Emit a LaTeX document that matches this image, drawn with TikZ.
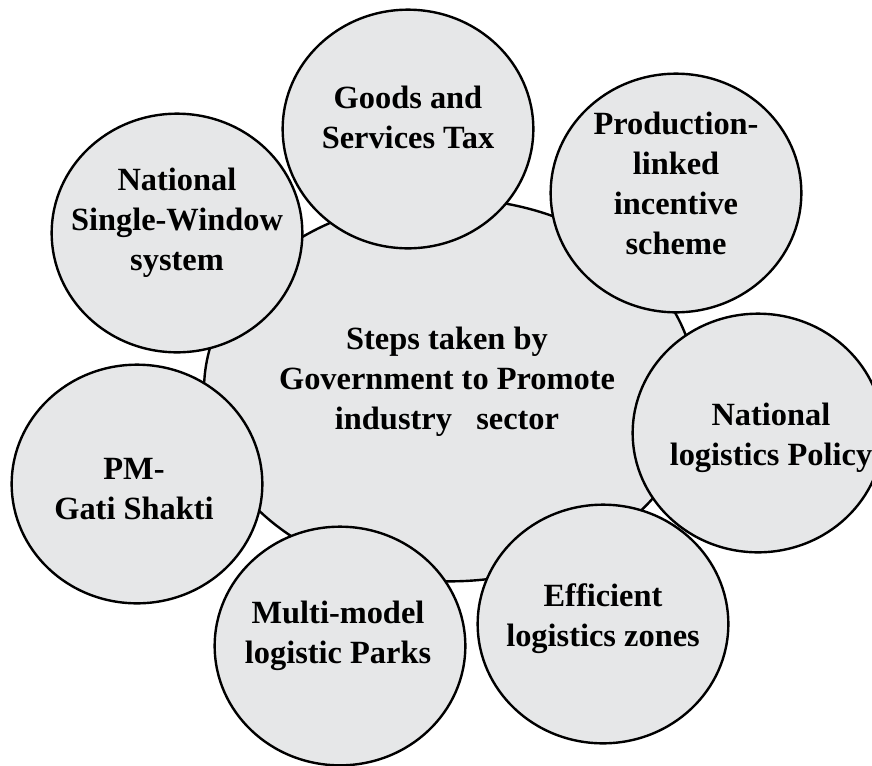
\documentclass[tikz,border=0pt]{standalone}
\usepackage{fontspec}
\setmainfont{Liberation Serif}
\usepackage{xcolor}
\usepackage{tikz}
\usetikzlibrary{positioning, shapes.geometric}
\definecolor{bubblegrey}{RGB}{230, 231, 232}

\begin{document}
\begin{tikzpicture}[
    x=0.75pt, y=-0.75pt,
    bubble/.style={draw, ellipse, fill=bubblegrey, line width=1.8pt, minimum width=188pt, minimum height=179pt, inner sep=0pt},
    hubshape/.style={draw, ellipse, fill=bubblegrey, line width=1.8pt, minimum width=369pt, minimum height=287pt, inner sep=0pt},
    label/.style={align=center, font=\fontsize{24.3}{30}\selectfont\bfseries, inner sep=0pt}
]
    \useasboundingbox (0,0) rectangle (872,765);

    % centre
    \node[hubshape] (hub) at (450,390) {};
    \node[label] (hub-t) at (447,382) {Steps taken by\\Government to Promote\\industry\ \ \ sector};

    % ring of steps
    \node[bubble] (gst) at (408,129) {};
    \node[bubble] (nsw) at (177,233) {};
    \node[bubble] (pli) at (676,193) {};
    \node[bubble] (pmgs) at (137,484) {};
    \node[bubble] (mmlp) at (340,646) {};
    \node[bubble] (elz) at (603,624) {};
    \node[bubble] (nlp) at (758,433) {};

    \node[label] (gst-t) at (408,117) {Goods and\\Services Tax};
    \node[label] (nsw-t) at (177,223) {National\\Single-Window\\system};
    \node[label] (pli-t) at (676,183) {Production-\\linked\\incentive\\scheme};
    \node[label] (pmgs-t) at (134,489) {PM-\\Gati Shakti};
    \node[label] (mmlp-t) at (338,636) {Multi-model\\logistic Parks};
    \node[label] (elz-t) at (603,619) {Efficient\\logistics zones};
    \node[label] (nlp-t) at (771,438) {National\\logistics Policy};
\end{tikzpicture}
\end{document}
